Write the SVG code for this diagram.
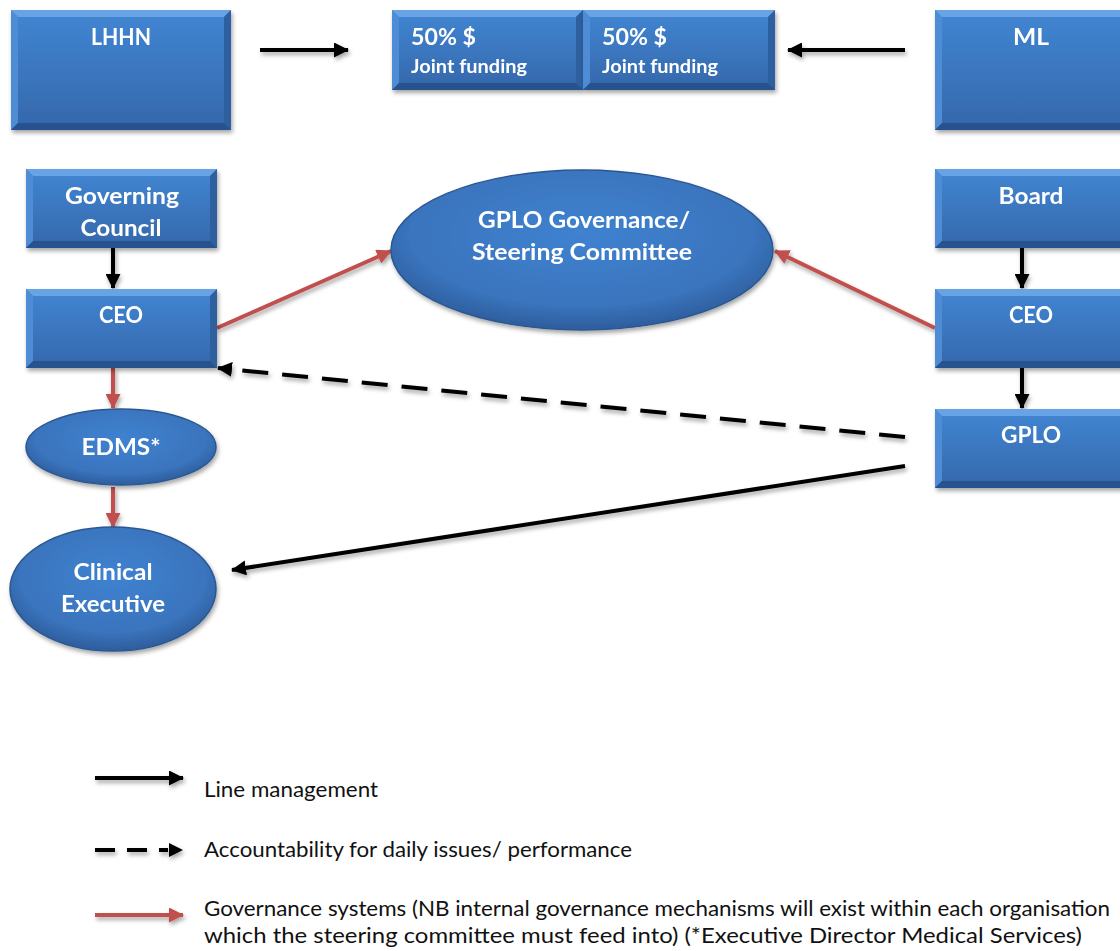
<svg xmlns="http://www.w3.org/2000/svg" width="1120" height="951" viewBox="0 0 1120 951">
  <style>
    .body { fill: url(#boxGrad); }
    .bt { fill: #67a3e6; }
    .bl { fill: #4f8cd6; }
    .br { fill: #2f5f9f; }
    .bb { fill: #27538d; }
    .oval { fill: url(#ovalGrad); stroke: #2b5791; stroke-width: 1.5; }
    .lbl { font-family: Lato, "Open Sans", sans-serif; font-weight: bold; fill: #ffffff; text-anchor: middle; }
    .lbl-l { font-family: Lato, "Open Sans", sans-serif; font-weight: bold; fill: #ffffff; }
    .legend { font-family: Lato, "Open Sans", sans-serif; font-size: 21px; fill: #111111; }
    .blk { stroke: #000000; stroke-width: 4; fill: none; }
    .red { stroke: #c0504d; stroke-width: 4; fill: none; }
  </style>
  <defs>
    <linearGradient id="boxGrad" x1="0" y1="0" x2="0" y2="1">
      <stop offset="0" stop-color="#4186d3"/>
      <stop offset="1" stop-color="#3567ab"/>
    </linearGradient>
    <radialGradient id="ovalGrad" cx="0.5" cy="0.4" r="0.6">
      <stop offset="0" stop-color="#3f82d0"/>
      <stop offset="0.75" stop-color="#3a74bd"/>
      <stop offset="1" stop-color="#2d5d9c"/>
    </radialGradient>
    <filter id="shadow" x="-10%" y="-10%" width="125%" height="130%">
      <feDropShadow dx="1.5" dy="3" stdDeviation="2" flood-color="#000000" flood-opacity="0.35"/>
    </filter>
    <marker id="headBlk" markerUnits="userSpaceOnUse" viewBox="0 0 15 15" markerWidth="15" markerHeight="15" refX="14" refY="7.5" orient="auto">
      <path d="M0,0 L15,7.5 L0,15 z" fill="#000000"/>
    </marker>
    <marker id="headRed" markerUnits="userSpaceOnUse" viewBox="0 0 15 15" markerWidth="15" markerHeight="15" refX="14" refY="7.5" orient="auto">
      <path d="M0,0 L15,7.5 L0,15 z" fill="#c0504d"/>
    </marker>
  </defs>

  <rect width="1120" height="951" fill="#ffffff"/>

  <!-- connectors -->
  <g id="connectors" filter="url(#shadow)">
    <line class="blk" x1="260" y1="50" x2="348" y2="50" marker-end="url(#headBlk)"/>
    <line class="blk" x1="905" y1="50" x2="788" y2="50" marker-end="url(#headBlk)"/>
    <line class="blk" x1="113" y1="248" x2="113" y2="288" marker-end="url(#headBlk)"/>
    <line class="blk" x1="1022" y1="248" x2="1022" y2="288" marker-end="url(#headBlk)"/>
    <line class="blk" x1="1022" y1="368" x2="1022" y2="408" marker-end="url(#headBlk)"/>
    <line class="red" x1="217" y1="328" x2="391" y2="251" marker-end="url(#headRed)"/>
    <line class="red" x1="935" y1="328" x2="775" y2="251" marker-end="url(#headRed)"/>
    <line class="red" x1="113" y1="368" x2="113" y2="408" marker-end="url(#headRed)"/>
    <line class="red" x1="113" y1="487" x2="113" y2="527" marker-end="url(#headRed)"/>
    <line class="blk" x1="905" y1="437" x2="218" y2="368" stroke-dasharray="26,14" marker-end="url(#headBlk)"/>
    <line class="blk" x1="905" y1="466" x2="232" y2="570" marker-end="url(#headBlk)"/>
  </g>

  <!-- LHHN -->
  <g id="lhhn" filter="url(#shadow)">
    <rect class="body" x="11" y="10" width="220" height="120"/>
    <polygon class="bt" points="11,10 231,10 224,17 18,17"/>
    <polygon class="bl" points="11,10 18,17 18,123 11,130"/>
    <polygon class="br" points="231,10 224,17 224,123 231,130"/>
    <polygon class="bb" points="11,130 231,130 224,123 18,123"/>
    <text class="lbl" x="121" y="45" font-size="23" textLength="60" lengthAdjust="spacingAndGlyphs">LHHN</text>
  </g>

  <!-- Joint funding (left half) -->
  <g id="fund1" filter="url(#shadow)">
    <rect class="body" x="392" y="10" width="191" height="80"/>
    <polygon class="bt" points="392,10 583,10 576,17 399,17"/>
    <polygon class="bl" points="392,10 399,17 399,83 392,90"/>
    <polygon class="br" points="583,10 576,17 576,83 583,90"/>
    <polygon class="bb" points="392,90 583,90 576,83 399,83"/>
    <text class="lbl-l" x="411" y="45" font-size="23" textLength="65" lengthAdjust="spacingAndGlyphs">50% $</text>
    <text class="lbl-l" x="411" y="73" font-size="18" textLength="116" lengthAdjust="spacingAndGlyphs">Joint funding</text>
  </g>

  <!-- Joint funding (right half) -->
  <g id="fund2" filter="url(#shadow)">
    <rect class="body" x="583" y="10" width="192" height="80"/>
    <polygon class="bt" points="583,10 775,10 768,17 590,17"/>
    <polygon class="bl" points="583,10 590,17 590,83 583,90"/>
    <polygon class="br" points="775,10 768,17 768,83 775,90"/>
    <polygon class="bb" points="583,90 775,90 768,83 590,83"/>
    <text class="lbl-l" x="602" y="45" font-size="23" textLength="65" lengthAdjust="spacingAndGlyphs">50% $</text>
    <text class="lbl-l" x="602" y="73" font-size="18" textLength="116" lengthAdjust="spacingAndGlyphs">Joint funding</text>
  </g>

  <!-- ML -->
  <g id="ml" filter="url(#shadow)">
    <rect class="body" x="935" y="10" width="195" height="120"/>
    <polygon class="bt" points="935,10 1130,10 1123,17 942,17"/>
    <polygon class="bl" points="935,10 942,17 942,123 935,130"/>
    <polygon class="bb" points="935,130 1130,130 1123,123 942,123"/>
    <text class="lbl" x="1031" y="45" font-size="23" textLength="36" lengthAdjust="spacingAndGlyphs">ML</text>
  </g>

  <!-- Governing Council -->
  <g id="governing-council" filter="url(#shadow)">
    <rect class="body" x="26" y="169" width="191" height="79"/>
    <polygon class="bt" points="26,169 217,169 210,176 33,176"/>
    <polygon class="bl" points="26,169 33,176 33,241 26,248"/>
    <polygon class="br" points="217,169 210,176 210,241 217,248"/>
    <polygon class="bb" points="26,248 217,248 210,241 33,241"/>
    <text class="lbl" x="122" y="204" font-size="23" textLength="114" lengthAdjust="spacingAndGlyphs">Governing</text>
    <text class="lbl" x="121" y="236" font-size="23" textLength="81" lengthAdjust="spacingAndGlyphs">Council</text>
  </g>

  <!-- CEO (LHHN side) -->
  <g id="ceo-left" filter="url(#shadow)">
    <rect class="body" x="26" y="289" width="191" height="79"/>
    <polygon class="bt" points="26,289 217,289 210,296 33,296"/>
    <polygon class="bl" points="26,289 33,296 33,361 26,368"/>
    <polygon class="br" points="217,289 210,296 210,361 217,368"/>
    <polygon class="bb" points="26,368 217,368 210,361 33,361"/>
    <text class="lbl" x="121" y="323" font-size="23" textLength="44" lengthAdjust="spacingAndGlyphs">CEO</text>
  </g>

  <!-- Steering committee -->
  <g id="steering" filter="url(#shadow)">
    <ellipse class="oval" cx="582" cy="250" rx="191" ry="80"/>
    <text class="lbl" x="584" y="228" font-size="23" textLength="212" lengthAdjust="spacingAndGlyphs">GPLO Governance/</text>
    <text class="lbl" x="582" y="260" font-size="23" textLength="220" lengthAdjust="spacingAndGlyphs">Steering Committee</text>
  </g>

  <!-- Board -->
  <g id="board" filter="url(#shadow)">
    <rect class="body" x="935" y="169" width="195" height="79"/>
    <polygon class="bt" points="935,169 1130,169 1123,176 942,176"/>
    <polygon class="bl" points="935,169 942,176 942,241 935,248"/>
    <polygon class="bb" points="935,248 1130,248 1123,241 942,241"/>
    <text class="lbl" x="1031" y="204" font-size="23" textLength="65" lengthAdjust="spacingAndGlyphs">Board</text>
  </g>

  <!-- CEO (ML side) -->
  <g id="ceo-right" filter="url(#shadow)">
    <rect class="body" x="935" y="289" width="195" height="79"/>
    <polygon class="bt" points="935,289 1130,289 1123,296 942,296"/>
    <polygon class="bl" points="935,289 942,296 942,361 935,368"/>
    <polygon class="bb" points="935,368 1130,368 1123,361 942,361"/>
    <text class="lbl" x="1031" y="323" font-size="23" textLength="44" lengthAdjust="spacingAndGlyphs">CEO</text>
  </g>

  <!-- GPLO -->
  <g id="gplo" filter="url(#shadow)">
    <rect class="body" x="935" y="409" width="195" height="79"/>
    <polygon class="bt" points="935,409 1130,409 1123,416 942,416"/>
    <polygon class="bl" points="935,409 942,416 942,481 935,488"/>
    <polygon class="bb" points="935,488 1130,488 1123,481 942,481"/>
    <text class="lbl" x="1031" y="443" font-size="23" textLength="60" lengthAdjust="spacingAndGlyphs">GPLO</text>
  </g>

  <!-- EDMS -->
  <g id="edms" filter="url(#shadow)">
    <ellipse class="oval" cx="121" cy="447" rx="95" ry="38"/>
    <text class="lbl" x="121" y="455" font-size="23" textLength="79" lengthAdjust="spacingAndGlyphs">EDMS*</text>
  </g>

  <!-- Clinical Executive -->
  <g id="clinical-executive" filter="url(#shadow)">
    <ellipse class="oval" cx="113" cy="589" rx="103" ry="62"/>
    <text class="lbl" x="113" y="580" font-size="23" textLength="79" lengthAdjust="spacingAndGlyphs">Clinical</text>
    <text class="lbl" x="113" y="612" font-size="23" textLength="104" lengthAdjust="spacingAndGlyphs">Executive</text>
  </g>

  <!-- legend -->
  <g id="legend">
    <g filter="url(#shadow)">
      <line class="blk" x1="95" y1="778" x2="183" y2="778" marker-end="url(#headBlk)"/>
      <line class="blk" x1="95" y1="850" x2="168" y2="850" stroke-dasharray="20,12"/>
      <path d="M169,843 L183,850 L169,857 z" fill="#000000"/>
      <line class="red" x1="95" y1="915" x2="183" y2="915" marker-end="url(#headRed)"/>
    </g>
    <text class="legend" x="204" y="797" textLength="174" lengthAdjust="spacingAndGlyphs">Line management</text>
    <text class="legend" x="204" y="857" textLength="428" lengthAdjust="spacingAndGlyphs">Accountability for daily issues/ performance</text>
    <text class="legend" x="204" y="916" textLength="906" lengthAdjust="spacingAndGlyphs">Governance systems (NB internal governance mechanisms will exist within each organisation</text>
    <text class="legend" x="204" y="943" textLength="878" lengthAdjust="spacingAndGlyphs">which the steering committee must feed into) (*Executive Director Medical Services)</text>
  </g>
</svg>
